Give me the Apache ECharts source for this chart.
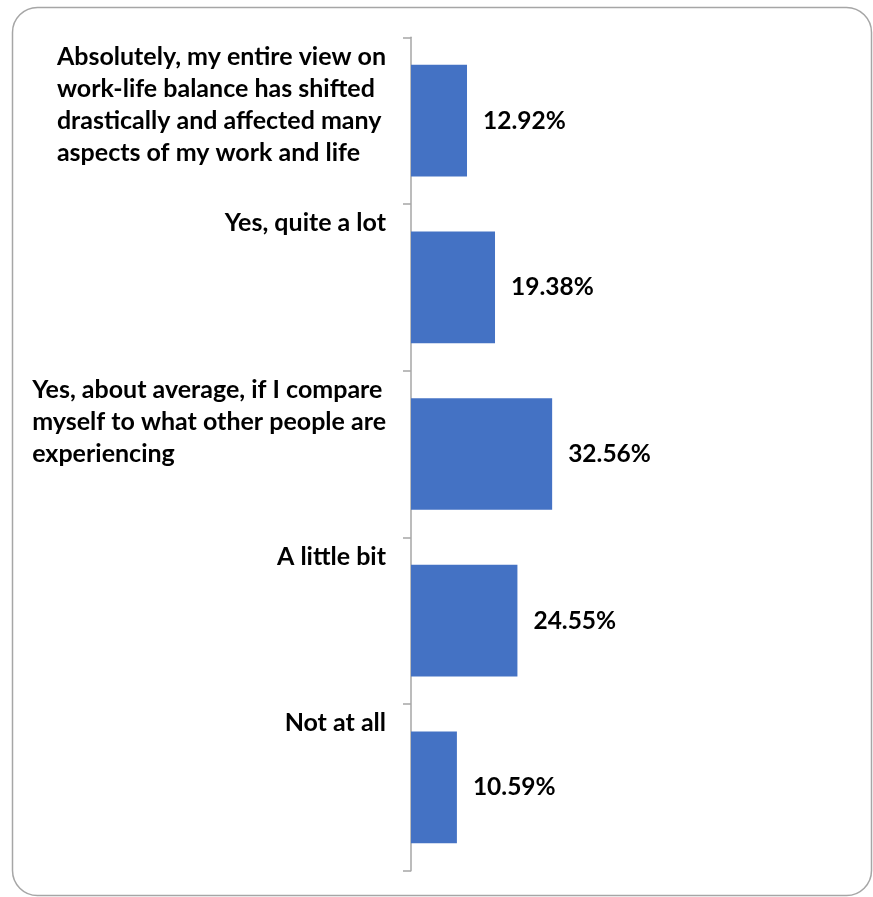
<!DOCTYPE html>
<html>
<head>
<meta charset="utf-8">
<script src="https://cdn.jsdelivr.net/npm/echarts@6/dist/echarts.min.js"></script>
<style>
  html, body { margin: 0; padding: 0; background: #ffffff; }
  #chart { width: 873px; height: 897px; }
</style>
</head>
<body>
<div id="chart"></div>
<script>
// Survey answers, top to bottom
const categories = [
  'Absolutely, my entire view on\nwork-life balance has shifted\ndrastically and affected many\naspects of my work and life',
  'Yes, quite a lot',
  'Yes, about average, if I compare\nmyself to what other people are\nexperiencing',
  'A little bit',
  'Not at all'
];
// Share of respondents, in percent
const shares = [12.92, 19.38, 32.56, 24.55, 10.59];

const FONT = 'Lato';
const LABEL_LINES = 5;   // every category label is padded to this many lines so its first line sits at the top of its band

const chart = echarts.init(document.getElementById('chart'), null, { renderer: 'canvas' });

chart.setOption({
  backgroundColor: '#ffffff',
  animation: false,
  graphic: [{
    type: 'rect',
    shape: { x: 12.5, y: 7.5, width: 859, height: 888, r: 25 },
    style: { fill: 'none', stroke: '#a6a6a6', lineWidth: 1.5 },
    z: -1
  }],
  grid: { left: 411, right: 28.5, top: 37.3, bottom: 26.3 },
  xAxis: {
    type: 'value',
    min: 0,
    max: 100,
    show: false
  },
  yAxis: {
    type: 'category',
    inverse: true,
    data: categories,
    axisLine: { show: true, lineStyle: { color: '#a6a6a6', width: 1.5 } },
    axisTick: { show: true, length: 8, lineStyle: { color: '#a6a6a6', width: 1.5 } },
    splitLine: { show: false },
    axisLabel: {
      margin: 25,
      align: 'right',
      verticalAlign: 'middle',
      fontFamily: FONT,
      fontWeight: 'bold',
      fontSize: 25,
      lineHeight: 32,
      color: '#000000',
      // block is anchored right against the axis, its lines are left-aligned inside it
      formatter: function (v) {
        const lines = v.split('\n').map(function (s) { return '{t|' + s + '}'; });
        while (lines.length < LABEL_LINES) lines.push('{t| }');
        return lines.join('\n');
      },
      rich: {
        t: {
          align: 'left',
          fontFamily: FONT,
          fontWeight: 'bold',
          fontSize: 25,
          lineHeight: 32,
          color: '#000000'
        }
      }
    }
  },
  series: [{
    type: 'bar',
    data: shares,
    barCategoryGap: '33%',
    itemStyle: { color: '#4472c4' },
    label: {
      show: true,
      position: 'right',
      distance: 16,
      fontFamily: FONT,
      fontWeight: 'bold',
      fontSize: 24.5,
      color: '#000000',
      formatter: function (p) { return p.value.toFixed(2) + '%'; }
    }
  }]
});
</script>
</body>
</html>
